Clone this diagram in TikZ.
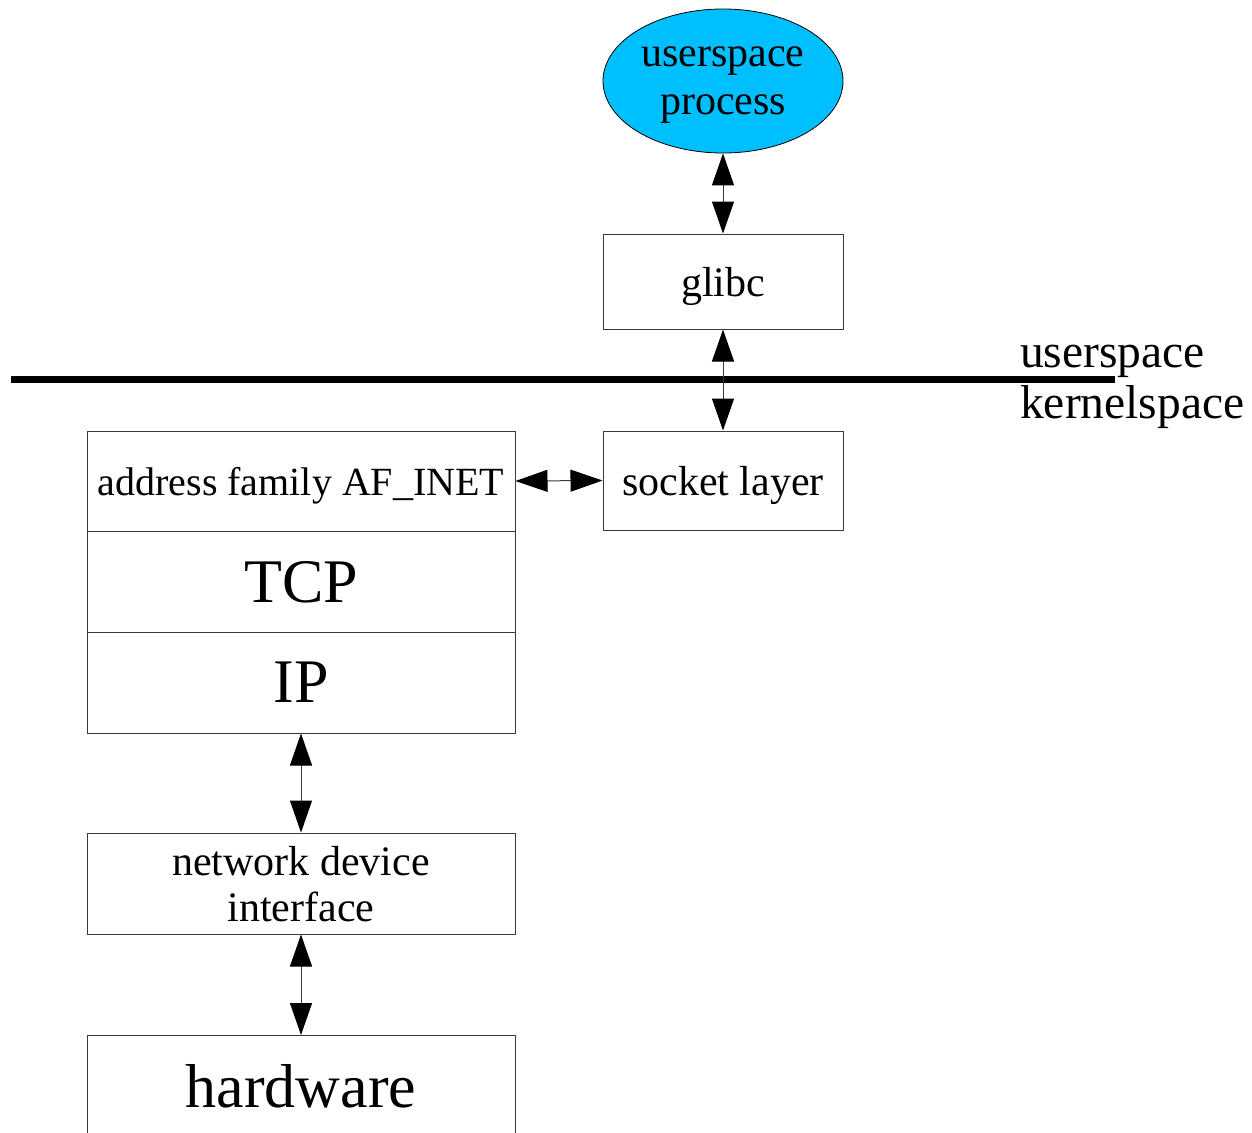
\documentclass[tikz,border=0pt]{standalone}
\usepackage{fontspec}
\setmainfont{Liberation Serif}
\usetikzlibrary{arrows.meta,shapes.geometric}
\definecolor{procblue}{HTML}{00BFFF}
\definecolor{edgegray}{HTML}{3A3A3A}
\begin{document}
\begin{tikzpicture}[x=1pt,y=-1pt,
  box/.style={draw=edgegray,line width=1pt,inner sep=0pt,minimum width=240pt,minimum height=96pt,align=center,text depth=0pt,font=\fontsize{42}{46}\selectfont},
  widebox/.style={box,minimum width=428pt,minimum height=101pt},
  bigtxt/.style={font=\fontsize{62}{66}\selectfont},
  conn/.style={draw=edgegray,line width=1pt,{Triangle[length=32pt,width=22pt,color=black]}-{Triangle[length=32pt,width=22pt,color=black]}},
  lbl/.style={inner sep=0pt,anchor=base west,font=\fontsize{47.5}{51}\selectfont}]
\useasboundingbox (0,0) rectangle (1252,1132);
\node[ellipse,draw=black,line width=0.8pt,fill=procblue,minimum width=240pt,minimum height=144pt,inner sep=0pt,align=center,text depth=0pt,font=\fontsize{42}{46}\selectfont] (proc) at (723,81) {userspace\\[2pt]process\rule[-6pt]{0pt}{1pt}};
\node[box,minimum height=95pt] (glibc) at (723,281.5) {glibc};
\node[box,minimum height=99pt] (sock) at (723,480.5) {socket layer};
\node[widebox,font=\fontsize{40}{44}\selectfont,minimum height=100pt] (af) at (301,481) {address family AF\_INET};
\node[widebox,bigtxt] (tcp) at (301,581.5) {TCP};
\node[widebox,bigtxt] (ip) at (301,682.5) {IP};
\node[widebox] (nd) at (301,883.5) {network device\\interface};
\node[widebox,bigtxt] (hw) at (301,1086) {hardware};
\draw[line width=7pt] (11,379) coordinate (lineL) -- (1115,379) coordinate (lineR);
\node[lbl] (us) at (1020,367) {userspace};
\node[lbl] (ks) at (1020,418) {kernelspace};
\draw[conn] (proc.south) -- (glibc.north);
\draw[conn] (glibc.south) -- (sock.north);
\draw[conn] (af.east) -- (sock.west);
\draw[conn] (ip.south) -- (nd.north);
\draw[conn] (nd.south) -- (hw.north);
\end{tikzpicture}
\end{document}
